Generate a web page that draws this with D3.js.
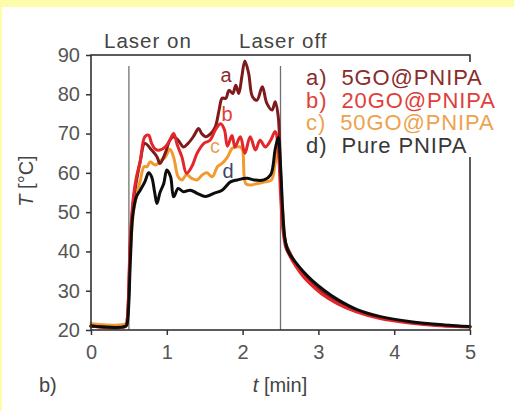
<!DOCTYPE html>
<html>
<head>
<meta charset="utf-8">
<script src="https://cdn.jsdelivr.net/npm/d3@7/dist/d3.min.js"></script>
<style>
  body { margin: 0; background: #fff; }
  svg { display: block; font-family: "Liberation Sans", Arial, sans-serif; }
</style>
</head>
<body>
<svg id="chart" width="514" height="411"></svg>
<script>
// ---- data ----
const xTicks = [0, 1, 2, 3, 4, 5];
const yTicks = [20, 30, 40, 50, 60, 70, 80, 90];
const laserOn = 0.5, laserOff = 2.5;

const seriesNames = ['a)  5GO@PNIPA', 'b)  20GO@PNIPA', 'c)  50GO@PNIPA', 'd)  Pure PNIPA'];
const seriesKeys = ['a', 'b', 'c', 'd'];

// a) 5GO@PNIPA
const timeA = [0, 0.46, 0.48, 0.52, 0.56, 0.6, 0.65, 0.71, 0.8, 0.87, 0.91, 0.98, 1.04, 1.09, 1.15, 1.22, 1.28, 1.35,
  1.42, 1.46, 1.51, 1.58, 1.64, 1.69, 1.73, 1.78, 1.82, 1.87, 1.91, 1.95, 1.99, 2.03, 2.08, 2.13, 2.19, 2.26, 2.32,
  2.39, 2.43, 2.47, 2.5, 2.53, 2.57, 2.63, 2.7, 2.8, 2.9, 3.05, 3.25, 3.5, 3.8, 4.2, 4.6, 5.0];
const tempA = [21, 21, 23, 42, 53, 58, 63, 67.5, 65.8, 64.1, 62.4, 65, 68.3, 69.2, 68.3, 66.6, 67.5, 69.2,
  71.3, 70, 69.2, 70, 71.7, 76, 79, 79, 81, 80.2, 82.3, 80.2, 84.5, 88.5, 85.3, 79.4, 78.5, 81.9, 77.7,
  76, 78.1, 74.3, 60, 47, 42, 39.3, 37, 34.3, 32.3, 29.7, 27.1, 24.9, 23.2, 22, 21.2, 20.8];

// b) 20GO@PNIPA
const timeB = [0, 0.46, 0.48, 0.52, 0.56, 0.6, 0.65, 0.71, 0.76, 0.8, 0.85, 0.91, 0.98, 1.04, 1.09, 1.14, 1.2, 1.26,
  1.33, 1.4, 1.49, 1.57, 1.64, 1.71, 1.76, 1.8, 1.86, 1.9, 1.97, 2.03, 2.1, 2.17, 2.23, 2.3, 2.37, 2.43, 2.47,
  2.5, 2.53, 2.57, 2.63, 2.7, 2.8, 2.9, 3.05, 3.25, 3.5, 3.8, 4.2, 4.6, 5.0];
const tempB = [21, 21, 23, 44, 54, 59, 63, 69.2, 69.6, 67.5, 66, 65.8, 66.6, 68.3, 70, 67, 64, 59.9,
  61.6, 65, 67.5, 68.3, 70.9, 72.5, 71, 66.8, 69.5, 66.6, 69.2, 65, 69.2, 65.8, 68.3, 66.6, 68.3, 70.5, 66,
  55, 46, 41, 38.6, 36.3, 33.6, 31.6, 29.1, 26.7, 24.6, 23, 21.8, 21.1, 20.8];

// c) 50GO@PNIPA
const timeC = [0, 0.46, 0.48, 0.52, 0.56, 0.6, 0.65, 0.7, 0.74, 0.78, 0.85, 0.93, 0.98, 1.04, 1.09, 1.15, 1.2, 1.26,
  1.33, 1.4, 1.47, 1.53, 1.6, 1.67, 1.73, 1.8, 1.86, 1.92, 1.97, 2.0, 2.04, 2.1, 2.2, 2.3, 2.38, 2.43, 2.47,
  2.5, 2.53, 2.57, 2.63, 2.7, 2.8, 2.9, 3.05, 3.25, 3.5, 3.8, 4.2, 4.6, 5.0];
const tempC = [21.6, 21.6, 23, 40, 50, 54, 58, 61.6, 61.6, 62.8, 62, 63.3, 64, 66, 64, 59, 58.2, 59.5,
  58.6, 58.2, 59.5, 60, 59, 61.6, 62.4, 64, 66.2, 66.6, 66.6, 65.8, 57.3, 56.9, 57.3, 57.7, 58.2, 62.4, 66,
  60, 50, 42, 39.4, 37, 34.5, 32.5, 29.8, 27.2, 24.9, 23.2, 22, 21.2, 20.8];

// d) Pure PNIPA
const timeD = [0, 0.46, 0.48, 0.52, 0.55, 0.6, 0.65, 0.71, 0.76, 0.8, 0.84, 0.87, 0.91, 0.96, 1.0, 1.05, 1.09, 1.15,
  1.22, 1.31, 1.4, 1.51, 1.62, 1.73, 1.84, 1.93, 2.06, 2.15, 2.28, 2.37, 2.43, 2.47, 2.5, 2.53, 2.56, 2.6,
  2.7, 2.8, 2.92, 3.07, 3.25, 3.51, 3.82, 4.22, 4.66, 5.0];
const tempD = [21, 21, 22, 38, 49, 54, 55.6, 57.7, 60, 59, 55, 52.2, 55, 57.3, 60.7, 59, 53.9, 56,
  55.2, 55.6, 54.8, 54, 54.8, 55.6, 57.7, 58.2, 58.6, 58.2, 58.2, 59.5, 66, 69, 62, 50, 43, 40,
  37.2, 34.9, 32.6, 30.2, 27.8, 25.2, 23.4, 22.1, 21.3, 20.9];

const lineColors = ['#7e1a1c', '#e4262a', '#f29a2e', '#0d0d0d'];
const textColors = ['#8a2c2c', '#e0403a', '#eea24e', '#383838'];
const markColors = ['#8a2c2c', '#e0403a', '#e8a050', '#3d4668'];

// ---- layout ----
const svg = d3.select('#chart');
const W = 514, H = 411;
const x = d3.scaleLinear().domain([0, 5]).range([91, 470]);
const y = d3.scaleLinear().domain([20, 90]).range([330, 55]);

// yellow page edge
svg.append('rect').attr('x', 0).attr('y', 0).attr('width', W).attr('height', 7).attr('fill', '#fdfca8');
svg.append('rect').attr('x', 0).attr('y', 0).attr('width', 2).attr('height', H).attr('fill', '#fdfca8');

// laser on/off markers
[laserOn, laserOff].forEach(t => {
  svg.append('line')
    .attr('x1', x(t)).attr('x2', x(t))
    .attr('y1', 66).attr('y2', y(20))
    .attr('stroke', '#707070').attr('stroke-width', 1.3);
});

// curves
const line = d3.line()
  .x(d => x(d[0]))
  .y(d => y(d[1]))
  .curve(d3.curveCatmullRom.alpha(0.5));

const series = [
  d3.zip(timeA, tempA),
  d3.zip(timeB, tempB),
  d3.zip(timeC, tempC),
  d3.zip(timeD, tempD)
];

[2, 0, 1, 3].forEach(i => {
  svg.append('path')
    .datum(series[i])
    .attr('d', line)
    .attr('fill', 'none')
    .attr('stroke', lineColors[i])
    .attr('stroke-width', 3)
    .attr('stroke-linejoin', 'round')
    .attr('stroke-linecap', 'round');
});

// frame
const frame = svg.append('g').attr('stroke', '#333').attr('stroke-width', 1.6).attr('fill', 'none');
frame.append('rect')
  .attr('x', x(0)).attr('y', y(90))
  .attr('width', x(5) - x(0)).attr('height', y(20) - y(90));

// axes
const yAxis = svg.append('g')
  .attr('transform', `translate(${x(0)},0)`)
  .call(d3.axisLeft(y).tickValues(yTicks).tickSize(5).tickPadding(6).tickFormat(d3.format('d')));
const xAxis = svg.append('g')
  .attr('transform', `translate(0,${y(20)})`)
  .call(d3.axisBottom(x).tickValues(xTicks).tickSize(5).tickPadding(10).tickFormat(d3.format('d')));

[yAxis, xAxis].forEach(g => {
  g.select('.domain').remove();
  g.selectAll('line').attr('stroke', '#333').attr('stroke-width', 1.5);
  g.selectAll('text').attr('font-size', 20).attr('fill', '#555').attr('font-family', null);
});

// legend (white box covers the right frame edge)
const legend = svg.append('g');
legend.append('rect')
  .attr('x', 300).attr('y', 62).attr('width', 200).attr('height', 95)
  .attr('fill', '#fff');
seriesNames.forEach((name, i) => {
  legend.append('text')
    .attr('x', 306).attr('y', 85 + i * 22.7)
    .attr('font-size', 22)
    .attr('letter-spacing', 0.9)
    .attr('fill', textColors[i])
    .attr('xml:space', 'preserve')
    .text(name);
});

// curve tags
const tagPos = [[226, 82], [227, 121], [215, 153], [228, 178]];
seriesKeys.forEach((k, i) => {
  svg.append('text')
    .attr('x', tagPos[i][0]).attr('y', tagPos[i][1])
    .attr('text-anchor', 'middle')
    .attr('font-size', 20)
    .attr('fill', markColors[i])
    .text(k);
});

// titles
svg.append('text').attr('x', 104).attr('y', 47.5).attr('font-size', 20.5)
  .attr('letter-spacing', 1).attr('fill', '#444').text('Laser on');
svg.append('text').attr('x', 239).attr('y', 47.5).attr('font-size', 20.5)
  .attr('letter-spacing', 1).attr('fill', '#444').text('Laser off');

const xt = svg.append('text').attr('x', 280).attr('y', 392)
  .attr('text-anchor', 'middle').attr('font-size', 20).attr('fill', '#444');
xt.append('tspan').attr('font-style', 'italic').text('t');
xt.append('tspan').text(' [min]');

const yt = svg.append('text')
  .attr('transform', 'translate(33,181) rotate(-90)')
  .attr('text-anchor', 'middle').attr('font-size', 20).attr('fill', '#444');
yt.append('tspan').attr('font-style', 'italic').text('T');
yt.append('tspan').text(' [°C]');

svg.append('text').attr('x', 39).attr('y', 392).attr('font-size', 20).attr('fill', '#444').text('b)');
</script>
</body>
</html>
